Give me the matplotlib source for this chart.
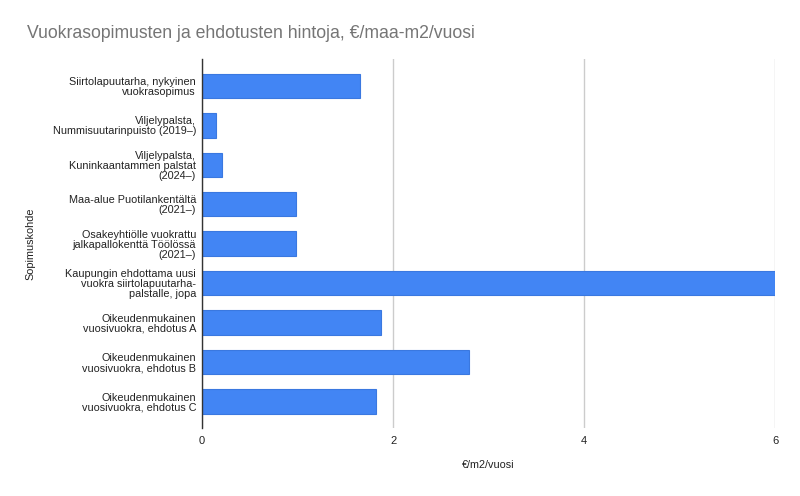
import matplotlib
matplotlib.use("Agg")
import matplotlib.pyplot as plt

plt.rcParams['font.family'] = ['Liberation Sans', 'DejaVu Sans']

# data
kohteet = [
    "Siirtolapuutarha, nykyinen\nvuokrasopimus",
    "Viljelypalsta,\nNummisuutarinpuisto (2019–)",
    "Viljelypalsta,\nKuninkaantammen palstat\n(2024–)",
    "Maa-alue Puotilankentältä\n(2021–)",
    "Osakeyhtiölle vuokrattu\njalkapallokenttä Töölössä\n(2021–)",
    "Kaupungin ehdottama uusi\nvuokra siirtolapuutarha-\npalstalle, jopa",
    "Oikeudenmukainen\nvuosivuokra, ehdotus A",
    "Oikeudenmukainen\nvuosivuokra, ehdotus B",
    "Oikeudenmukainen\nvuosivuokra, ehdotus C",
]
hinnat = [1.65, 0.15, 0.21, 0.98, 0.98, 6.0, 1.87, 2.79, 1.82]
xticks = [0, 2, 4, 6]

fig = plt.figure(figsize=(8, 4.96), dpi=100)
ax = fig.add_axes([202/800, 1-428/496, (775.3-202)/800, (428-59)/496])

pos = list(range(len(kohteet)))
ax.barh(pos, hinnat, height=0.62, color='#4285f4', edgecolor='#3a78e0',
        linewidth=0.8, zorder=3)

ax.set_xlim(0, 6)
ax.set_ylim(8.67, -0.68)
ax.set_xticks(xticks)
ax.set_xticklabels([str(t) for t in xticks], fontsize=8, color='#222222')
ax.set_yticks(pos)
ax.set_yticklabels(kohteet, fontsize=7.8, color='#222222', linespacing=1.0)
ax.tick_params(axis='both', length=0)
ax.tick_params(axis='y', pad=4.3)
ax.tick_params(axis='x', pad=5.5)

ax.grid(axis='x', color='#cccccc', linewidth=1, zorder=0)
for s in ['top', 'right', 'bottom']:
    ax.spines[s].set_visible(False)
ax.spines['left'].set_color('#333333')
ax.spines['left'].set_linewidth(1)
ax.spines['left'].set_zorder(4)

ax.set_xlabel("€/m2/vuosi", fontsize=7.8, color='#222222')
ax.xaxis.set_label_coords(0.5, -(465-428)/369)
ax.xaxis.label.set_va('center')
ax.set_ylabel("Sopimuskohde", fontsize=7.8, color='#222222')
ax.yaxis.set_label_coords(-(202-30)/573.3, 0.5)
ax.yaxis.label.set_va('center')

fig.text(27/800, 1-33/496, "Vuokrasopimusten ja ehdotusten hintoja, €/maa-m2/vuosi",
         fontsize=12.7, color='#757575', va='center', ha='left')

fig.savefig("out.png", dpi=100)
